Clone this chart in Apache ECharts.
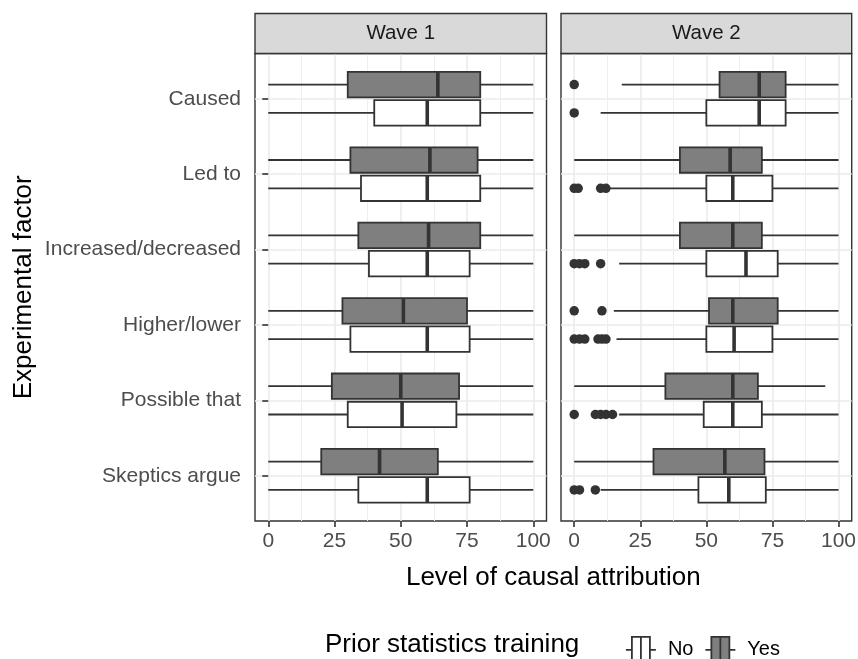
<!DOCTYPE html>
<html>
<head>
<meta charset="utf-8">
<script src="https://cdn.jsdelivr.net/npm/echarts@6/dist/echarts.min.js"></script>
<style>
html,body{margin:0;padding:0;background:#fff;}
#chart{width:858px;height:659px;}
</style>
</head>
<body>
<div id="chart"></div>
<script>
// ---- data (top to bottom) ----
const categories = ['Caused', 'Led to', 'Increased/decreased', 'Higher/lower', 'Possible that', 'Skeptics argue'];
const panels = ['Wave 1', 'Wave 2'];
const groups = ['No', 'Yes'];
const xTicks = [0, 25, 50, 75, 100];
const xMinorTicks = [12.5, 37.5, 62.5, 87.5];

// [min, Q1, median, Q3, max]
const wave1Yes = [[0, 30, 64, 80, 100], [0, 31, 61, 79, 100], [0, 34, 60.5, 80, 100], [0, 28, 51, 75, 100], [0, 24, 50, 72, 100], [0, 20, 42, 64, 100]];
const wave1No = [[0, 40, 60, 80, 100], [0, 35, 60, 80, 100], [0, 38, 60, 76, 100], [0, 31, 60, 76, 100], [0, 30, 50.5, 71, 100], [0, 34, 60, 76, 100]];
const wave2Yes = [[18, 55, 70, 80, 100], [0, 40, 59, 71, 100], [0, 40, 60, 71, 100], [15, 51, 60, 77, 100], [0, 34.5, 60, 69.5, 95], [0, 30, 57, 72, 100]];
const wave2No = [[10, 50, 70, 80, 100], [13, 50, 60, 75, 100], [17, 50, 65, 77, 100], [16, 50, 60.5, 75, 100], [17, 49, 60, 71, 100], [10, 47, 58.5, 72.5, 100]];

const wave1YesOutliers = [[], [], [], [], [], []];
const wave1NoOutliers = [[], [], [], [], [], []];
const wave2YesOutliers = [[0], [], [], [0, 10.5], [], []];
const wave2NoOutliers = [[0], [0, 1.5, 10, 12], [0, 2, 4, 10], [0, 2, 4, 9, 10.5, 12], [0, 8, 10, 12, 14.5], [0, 2, 8]];

// ---- layout / style constants ----
const FONT = 'Liberation Sans, Arial, Helvetica, sans-serif';
const N = categories.length;
const DODGE = 0.1875;      // half of dodge width 0.75 / 2
const BOX_H = 0.3375;      // box thickness in category units
const DARK = '#333333';
const LW = 1.8;
const FILL = { No: '#FFFFFF', Yes: '#7F7F7F' };
const GRIDS = [
  { left: 255, top: 53.5, width: 291.5, height: 467.5 },
  { left: 561, top: 53.5, width: 290.7, height: 467.5 }
];
const STRIP_TOP = 13.5;

function catPos(i) { return N - i; }

function renderBox(offset) {
  return function (params, api) {
    const p = api.value(0) + offset;
    const lo = api.coord([api.value(1), p]);
    const q1 = api.coord([api.value(2), p]);
    const md = api.coord([api.value(3), p]);
    const q3 = api.coord([api.value(4), p]);
    const hi = api.coord([api.value(5), p]);
    const h = api.size([0, BOX_H])[1];
    const ls = { stroke: DARK, lineWidth: LW };
    return {
      type: 'group',
      children: [
        { type: 'line', shape: { x1: lo[0], y1: lo[1], x2: q1[0], y2: q1[1] }, style: ls },
        { type: 'line', shape: { x1: q3[0], y1: q3[1], x2: hi[0], y2: hi[1] }, style: ls },
        { type: 'rect', shape: { x: q1[0], y: q1[1] - h / 2, width: q3[0] - q1[0], height: h },
          style: { fill: api.visual('color'), stroke: DARK, lineWidth: LW } },
        { type: 'line', shape: { x1: md[0], y1: md[1] - h / 2, x2: md[0], y2: md[1] + h / 2 },
          style: { stroke: DARK, lineWidth: 3.6 } }
      ]
    };
  };
}

const boxData = {
  0: { Yes: wave1Yes, No: wave1No },
  1: { Yes: wave2Yes, No: wave2No }
};
const outlierData = {
  0: { Yes: wave1YesOutliers, No: wave1NoOutliers },
  1: { Yes: wave2YesOutliers, No: wave2NoOutliers }
};
const offsets = { Yes: DODGE, No: -DODGE };

const series = [];
[0, 1].forEach(function (g) {
  groups.forEach(function (grp) {
    series.push({
      type: 'custom',
      name: grp,
      xAxisIndex: g,
      yAxisIndex: g,
      itemStyle: { color: FILL[grp], borderColor: DARK },
      renderItem: renderBox(offsets[grp]),
      encode: { x: [1, 2, 3, 4, 5], y: 0 },
      data: boxData[g][grp].map(function (d, i) { return [catPos(i)].concat(d); }),
      silent: true,
      z: 3
    });
    const pts = [];
    outlierData[g][grp].forEach(function (vals, i) {
      vals.forEach(function (v) { pts.push([v, catPos(i) + offsets[grp]]); });
    });
    series.push({
      type: 'scatter',
      name: grp,
      xAxisIndex: g,
      yAxisIndex: g,
      symbol: 'circle',
      symbolSize: 9.5,
      itemStyle: { color: DARK, opacity: 1 },
      data: pts,
      silent: true,
      z: 4
    });
  });
});

const yCustom = categories.map(function (c, i) { return catPos(i); });

const xAxes = [];
const yAxes = [];
[0, 1].forEach(function (g) {
  xAxes.push({
    type: 'value', gridIndex: g, min: -5, max: 105, position: 'bottom',
    axisLine: { show: false },
    axisTick: { show: true, length: 6, customValues: xTicks, lineStyle: { color: DARK, width: 1.6 } },
    axisLabel: { show: true, customValues: xTicks, margin: 10, color: '#4D4D4D', fontSize: 21, fontFamily: FONT,
      formatter: function (v) { return String(v); } },
    splitLine: { show: true, customValues: xTicks, lineStyle: { color: '#EBEBEB', width: 1.6 } }
  });
});
[0, 1].forEach(function (g) {
  xAxes.push({
    type: 'value', gridIndex: g, min: -5, max: 105, position: 'top',
    axisLine: { show: false },
    axisTick: { show: false, customValues: xMinorTicks },
    axisLabel: { show: false, customValues: xMinorTicks },
    splitLine: { show: true, customValues: xMinorTicks, lineStyle: { color: '#EEEEEE', width: 1 } }
  });
});
[0, 1].forEach(function (g) {
  yAxes.push({
    type: 'value', gridIndex: g, min: 0.4, max: N + 0.6,
    axisLine: { show: false },
    axisTick: { show: g === 0, length: 6, customValues: yCustom, lineStyle: { color: DARK, width: 1.6 } },
    axisLabel: { show: g === 0, customValues: yCustom, margin: 14, color: '#4D4D4D', fontSize: 21, fontFamily: FONT,
      formatter: function (v) { const i = N - Math.round(v); return categories[i] || ''; } },
    splitLine: { show: true, customValues: yCustom, lineStyle: { color: '#EBEBEB', width: 1.6 } }
  });
});

const graphics = [];
[0, 1].forEach(function (g) {
  const gr = GRIDS[g];
  graphics.push({
    type: 'rect', z: 10,
    shape: { x: gr.left, y: STRIP_TOP, width: gr.width, height: gr.top - STRIP_TOP },
    style: { fill: '#D9D9D9', stroke: DARK, lineWidth: 1.4 }
  });
  graphics.push({
    type: 'text', z: 11,
    x: gr.left + gr.width / 2, y: (STRIP_TOP + gr.top) / 2,
    style: { text: panels[g], align: 'center', verticalAlign: 'middle', fontSize: 20.5, fontFamily: FONT, fill: '#1A1A1A' }
  });
});
graphics.push({
  type: 'text', x: (GRIDS[0].left + GRIDS[1].left + GRIDS[1].width) / 2, y: 578,
  style: { text: 'Level of causal attribution', align: 'center', verticalAlign: 'middle', fontSize: 26, fontFamily: FONT, fill: '#000' }
});
graphics.push({
  type: 'text', x: 24, y: GRIDS[0].top + GRIDS[0].height / 2, rotation: Math.PI / 2,
  style: { text: 'Experimental factor', align: 'center', verticalAlign: 'middle', fontSize: 26, fontFamily: FONT, fill: '#000' }
});
graphics.push({
  type: 'text', x: 325, y: 645,
  style: { text: 'Prior statistics training', align: 'left', verticalAlign: 'middle', fontSize: 26, fontFamily: FONT, fill: '#000' }
});

const KEY_ICON = 'path://M0,14L6,14M6,1L24,1L24,27L6,27ZM15,1L15,27M24,14L30,14';

const option = {
  backgroundColor: '#FFFFFF',
  animation: false,
  grid: GRIDS.map(function (gr) {
    return Object.assign({ show: true, backgroundColor: '#FFFFFF', borderColor: DARK, borderWidth: 1.4, containLabel: false, outerBoundsMode: 'none' }, gr);
  }),
  xAxis: xAxes,
  yAxis: yAxes,
  legend: {
    left: 620, top: 631,
    orient: 'horizontal',
    itemWidth: 30, itemHeight: 28, itemGap: 11,
    selectedMode: false,
    textStyle: { fontSize: 20, fontFamily: FONT, color: '#000', padding: [0, 0, 0, 7] },
    data: [
      { name: 'No', icon: KEY_ICON, itemStyle: { color: FILL.No, borderColor: DARK, borderWidth: 1.8 } },
      { name: 'Yes', icon: KEY_ICON, itemStyle: { color: FILL.Yes, borderColor: DARK, borderWidth: 1.8 } }
    ]
  },
  graphic: graphics,
  series: series
};

const chart = echarts.init(document.getElementById('chart'), null, { renderer: 'canvas' });
chart.setOption(option);
</script>
</body>
</html>
